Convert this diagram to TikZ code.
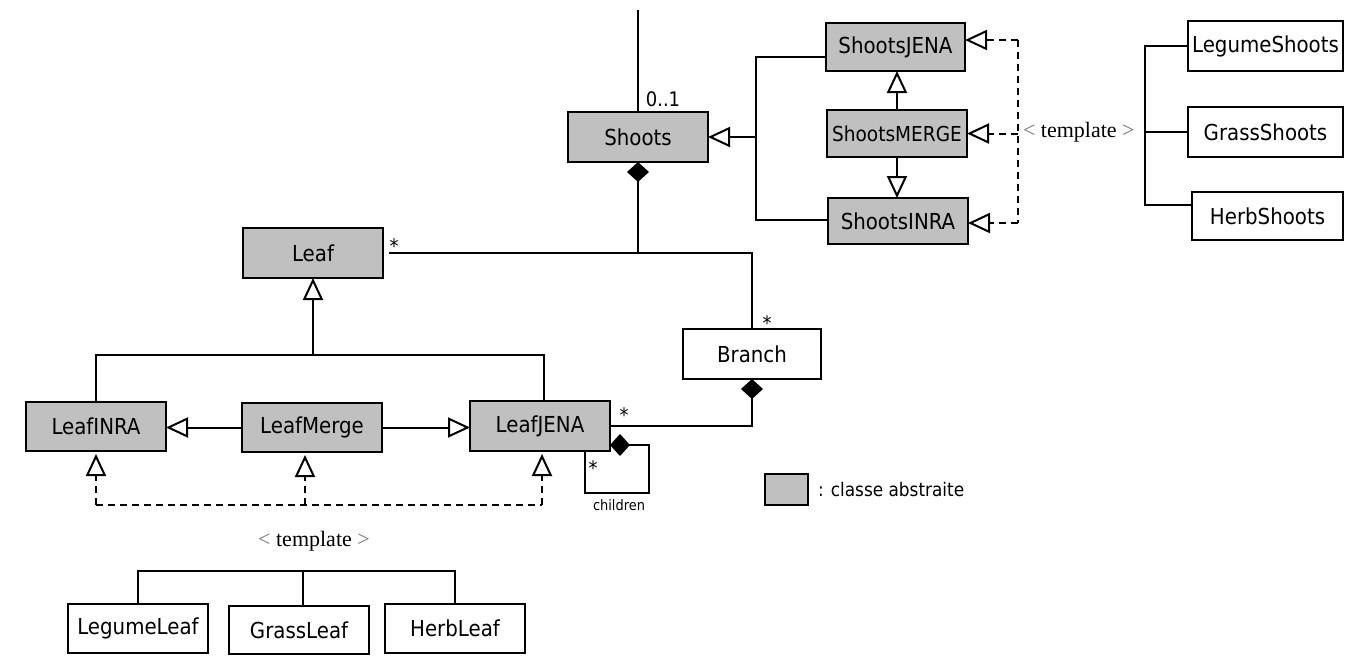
\documentclass[tikz,border=0pt]{standalone}
\usepackage{fontspec}
\setmainfont{DejaVu Sans Condensed}
\newfontfamily\tmplfont{Liberation Serif}
\usetikzlibrary{arrows.meta}
\definecolor{abstractgray}{RGB}{192,192,192}
\begin{document}
\begin{tikzpicture}[x=0.5pt,y=-0.5pt,line width=1pt,
  every node/.style={outer sep=0pt, inner sep=1pt},
  abstractclass/.style={draw, line width=1.4pt, fill=abstractgray, minimum width=70pt, minimum height=25pt, font=\fontsize{11}{13}\selectfont},
  plainclass/.style={draw, line width=1.4pt, fill=white, minimum width=70pt, minimum height=25pt, font=\fontsize{11}{13}\selectfont},
  mult/.style={font=\fontsize{10}{12}\selectfont},
  tmpl/.style={font=\tmplfont\fontsize{11}{13}\selectfont},
  gen/.style={-{Triangle[open,length=11pt,width=10pt]}},
  dashline/.style={dash pattern=on 3.5pt off 2.5pt},
  real/.style={gen, dashline},
  comp/.style={{Diamond[length=10pt,width=11pt]}-},
  compend/.style={-{Diamond[length=10pt,width=11pt]}}]
\useasboundingbox (0,0) rectangle (1351,655);
% classes
\node[abstractclass] (Shoots) at (638,137) {Shoots};
\node[abstractclass, minimum width=69.5pt, minimum height=24pt] (ShootsJENA) at (895.5,47) {ShootsJENA};
\node[abstractclass, minimum height=23.5pt, font=\fontsize{10.3}{12}\selectfont] (ShootsMERGE) at (897,133.5) {ShootsMERGE};
\node[abstractclass, minimum height=23pt] (ShootsINRA) at (898,221) {ShootsINRA};
\node[plainclass, minimum width=77.5pt] (LegumeShoots) at (1265.5,46) {LegumeShoots};
\node[plainclass, minimum width=77.5pt] (GrassShoots) at (1265.5,132) {GrassShoots};
\node[plainclass, minimum width=75.5pt, minimum height=24pt] (HerbShoots) at (1267.5,216) {HerbShoots};
\node[abstractclass] (Leaf) at (313,253) {Leaf};
\node[plainclass, minimum width=69pt] (Branch) at (752,354) {Branch};
\node[abstractclass, minimum height=24.5pt] (LeafINRA) at (96,426.5) {LeafINRA};
\node[abstractclass, minimum height=24.5pt] (LeafMerge) at (312,427.5) {LeafMerge};
\node[abstractclass] (LeafJENA) at (540,426) {LeafJENA};
\node[plainclass, minimum height=24.5pt] (LegumeLeaf) at (138,628.5) {LegumeLeaf};
\node[plainclass, minimum height=24pt] (GrassLeaf) at (299,630) {GrassLeaf};
\node[plainclass, minimum height=24.5pt] (HerbLeaf) at (455,628.5) {HerbLeaf};
% Shoots and its parts
\coordinate (top) at (638,10);
\draw (top) -- (Shoots.north);
\node[mult] (mShoots) at (663,99) {0..1};
\draw[comp] (Shoots.south) -- (Shoots.south |- Leaf.east);
\coordinate (jBranch) at (752,253);
\draw[shorten <=3pt] (Leaf.east) -- (jBranch) -- (Branch.north);
\node[mult] (mLeaf) at (394,246) {*};
\node[mult] (mBranch) at (767,323) {*};
% Shoots variants
\coordinate (jJENA) at (756,57);
\coordinate (jINRA) at (756,220);
\draw (ShootsJENA.west |- jJENA) -- (jJENA) -- (jINRA) -- (ShootsINRA.west |- jINRA);
\draw[gen] (jJENA |- Shoots.east) -- (Shoots.east);
\draw[gen] (ShootsMERGE.north) -- (ShootsMERGE.north |- ShootsJENA.south);
\draw[gen] (ShootsMERGE.south) -- (ShootsMERGE.south |- ShootsINRA.north);
\coordinate (tTop) at (1018,40);
\coordinate (tBot) at (1018,223);
\draw[dashline] (tTop) -- (tBot);
\draw[real] (tTop) -- (ShootsJENA.east |- tTop);
\draw[real] (tTop |- ShootsMERGE.east) -- (ShootsMERGE.east);
\draw[real] (tBot) -- (ShootsINRA.east |- tBot);
\node[tmpl, anchor=west] (tmplShoots) at (1021,132) {\textcolor{black!55}{<} template \textcolor{black!55}{>}};
\coordinate (sTop) at (1145,46);
\coordinate (sBot) at (1145,205);
\draw (LegumeShoots.west) -- (sTop) -- (sBot) -- (HerbShoots.west |- sBot);
\draw (sTop |- GrassShoots.west) -- (GrassShoots.west);
% Leaf variants
\coordinate (lRight) at (544,355);
\draw (LeafINRA.north) |- (lRight) -- (LeafJENA.north -| lRight);
\draw[gen] (Leaf.south |- lRight) -- (Leaf.south);
\draw[gen] (LeafMerge.west) -- (LeafINRA.east |- LeafMerge.west);
\draw[gen] (LeafMerge.east) -- (LeafJENA.west |- LeafMerge.east);
\coordinate (dLeft) at (96,505);
\coordinate (dMid) at (305,505);
\coordinate (dRight) at (542,505);
\draw[dashline] (dLeft) -- (dRight);
\draw[real, shorten >=1.5pt] (dLeft) -- (LeafINRA.south);
\draw[real, shorten >=1.5pt] (dMid) -- (LeafMerge.south -| dMid);
\draw[real, shorten >=1.5pt] (dRight) -- (LeafJENA.south -| dRight);
\node[tmpl] (tmplLeaf) at (314,541) {\textcolor{black!55}{<} template \textcolor{black!55}{>}};
\coordinate (lt) at (303,571);
\draw (LegumeLeaf.north) |- (lt) -| (HerbLeaf.north);
\draw (lt) -- (GrassLeaf.north -| lt);
% Branch and children
\draw[comp] (Branch.south) |- (LeafJENA.east);
\node[mult] (mJENA) at (624,415) {*};
\coordinate (cLeft) at (585,493);
\coordinate (cRight) at (649,493);
\draw[compend] (LeafJENA.south -| cLeft) -- (cLeft) -- (cRight) |- ([yshift=-9.5pt]LeafJENA.east);
\node[mult] (mChild) at (593,468) {*};
\node[font=\fontsize{7.2}{8}\selectfont] (lChildren) at (619,505) {children};
% legend
\node[draw, line width=1.4pt, fill=abstractgray, minimum width=21.5pt, minimum height=15.5pt] (legendBox) at (786.5,489.5) {};
\node[anchor=west, xshift=4pt, font=\fontsize{9.4}{11}\selectfont] (legendText) at (legendBox.east) {: classe abstraite};
\end{tikzpicture}
\end{document}
